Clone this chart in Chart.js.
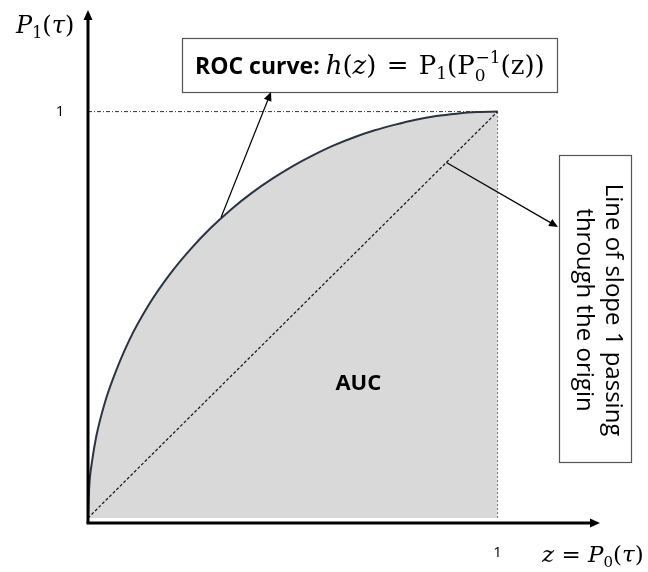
<!DOCTYPE html>
<html>
<head>
<meta charset="utf-8">
<script src="https://cdn.jsdelivr.net/npm/chart.js@4"></script>
<style>
  html, body { margin: 0; padding: 0; background: #fff; }
  #wrap { width: 648px; height: 572px; }
</style>
</head>
<body>
<div id="wrap"><canvas id="plot" width="648" height="572"></canvas></div>
<script>
// ROC curve: z = P0(tau), h(z) = P1(tau)
const rocZ = [0, 0.003, 0.01, 0.02, 0.04, 0.06, 0.1, 0.15, 0.2, 0.25, 0.3, 0.35, 0.4, 0.45, 0.5, 0.55, 0.6, 0.65, 0.7, 0.75, 0.8, 0.85, 0.9, 0.95, 1];
const rocH = [0, 0.077, 0.14, 0.2, 0.28, 0.34, 0.436, 0.527, 0.6, 0.661, 0.714, 0.76, 0.8, 0.835, 0.866, 0.893, 0.917, 0.937, 0.954, 0.968, 0.98, 0.989, 0.995, 0.999, 1];
// line of slope 1 through the origin
const diagZ = [0, 1];
const diagH = [0, 1];
// tick labels shown on the axes
const xTicks = [1];
const yTicks = [1];
const axisMax = 1.25;

const ctx = document.getElementById('plot');

function pts(xs, ys) {
    return xs.map((x, i) => ({x: x, y: ys[i]}));
}

// draw a bit of math text made of segments
function drawSegs(c, segs, x, y) {
    segs.forEach(s => {
        c.font = s.font;
        c.fillText(s.t, x, y + (s.dy || 0));
        x += c.measureText(s.t).width + (s.gap || 0);
    });
    return x;
}

function arrow(c, x1, y1, x2, y2, size, width) {
    var a = Math.atan2(y2 - y1, x2 - x1);
    c.lineWidth = width;
    c.beginPath();
    c.moveTo(x1, y1);
    c.lineTo(x2 - Math.cos(a) * size * 0.8, y2 - Math.sin(a) * size * 0.8);
    c.stroke();
    c.beginPath();
    c.moveTo(x2, y2);
    c.lineTo(x2 - size * Math.cos(a) + size * 0.45 * Math.sin(a), y2 - size * Math.sin(a) - size * 0.45 * Math.cos(a));
    c.lineTo(x2 - size * Math.cos(a) - size * 0.45 * Math.sin(a), y2 - size * Math.sin(a) + size * 0.45 * Math.cos(a));
    c.closePath();
    c.fill();
}

const serif = '"DejaVu Serif", "Liberation Serif", serif';
const sans = '"Open Sans", "Noto Sans", sans-serif';

const decor = {
    id: 'decor',
    afterDatasetsDraw(chart) {
        const c = chart.ctx;
        const xs = chart.scales.x, ys = chart.scales.y;
        const x0 = xs.getPixelForValue(0), y0 = ys.getPixelForValue(0);
        c.save();
        c.fillStyle = '#000';
        c.strokeStyle = '#000';

        // axes with arrows
        arrow(c, x0, y0 + 5, x0, ys.getPixelForValue(axisMax), 10, 3);
        arrow(c, x0 - 1.5, y0 + 5, xs.getPixelForValue(axisMax), y0 + 5, 10, 3);

        // tick labels
        c.font = '15px ' + sans;
        c.textAlign = 'center';
        c.textBaseline = 'middle';
        yTicks.forEach(v => c.fillText(String(v), 60, ys.getPixelForValue(v)));
        xTicks.forEach(v => c.fillText(String(v), xs.getPixelForValue(v), 553));

        // axis titles
        c.textAlign = 'left';
        c.textBaseline = 'alphabetic';
        drawSegs(c, [
            {t: 'P', font: 'italic 24px ' + serif},
            {t: '1', font: '16px ' + serif, dy: 5},
            {t: '(', font: '24px ' + serif},
            {t: 'τ', font: 'italic 24px ' + serif},
            {t: ')', font: '24px ' + serif}
        ], 16, 33);
        drawSegs(c, [
            {t: 'z', font: 'italic 23px ' + serif},
            {t: ' = ', font: '23px ' + serif},
            {t: 'P', font: 'italic 23px ' + serif},
            {t: '0', font: '15px ' + serif, dy: 5},
            {t: '(', font: '23px ' + serif},
            {t: 'τ', font: 'italic 23px ' + serif},
            {t: ')', font: '23px ' + serif}
        ], 542, 562);

        // AUC label
        c.textAlign = 'center';
        c.textBaseline = 'middle';
        c.font = 'bold 22px ' + sans;
        c.fillText('AUC', xs.getPixelForValue(0.66), ys.getPixelForValue(0.33));

        // ROC curve box + arrow
        c.fillStyle = '#fff';
        c.fillRect(182, 38, 375, 54);
        c.strokeStyle = '#555';
        c.lineWidth = 1.2;
        c.strokeRect(182.5, 38.5, 375, 54);
        c.fillStyle = '#000';
        c.textAlign = 'left';
        c.textBaseline = 'alphabetic';
        drawSegs(c, [
            {t: 'ROC curve: ', font: 'bold 23px ' + sans},
            {t: 'h', font: 'italic 26px ' + serif},
            {t: '(', font: '26px ' + serif},
            {t: 'z', font: 'italic 26px ' + serif},
            {t: ')', font: '26px ' + serif, gap: 2},
            {t: ' = ', font: '26px ' + serif, gap: 2},
            {t: 'P', font: '26px ' + serif},
            {t: '1', font: '17px ' + serif, dy: 5},
            {t: '(P', font: '26px ' + serif},
            {t: '0', font: '17px ' + serif, dy: 7, gap: -10},
            {t: '−1', font: '17px ' + serif, dy: -11},
            {t: '(z))', font: '26px ' + serif}
        ], 195, 74);
        c.strokeStyle = '#000';
        arrow(c, xs.getPixelForValue(0.325), ys.getPixelForValue(0.74), 271, 92, 9, 1.2);

        // slope 1 box + arrow
        c.fillStyle = '#fff';
        c.fillRect(559, 155, 72, 307);
        c.strokeStyle = '#555';
        c.lineWidth = 1.2;
        c.strokeRect(559.5, 155.5, 72, 307);
        c.fillStyle = '#000';
        c.save();
        c.translate(596, 310);
        c.rotate(Math.PI / 2);
        c.font = '24px ' + sans;
        c.textAlign = 'center';
        c.textBaseline = 'middle';
        c.fillText('Line of slope 1 passing', 0, -17);
        c.fillText('through the origin', 0, 12);
        c.restore();
        c.strokeStyle = '#000';
        arrow(c, xs.getPixelForValue(0.875), ys.getPixelForValue(0.875), 558, 227, 9, 1.2);

        c.restore();
    }
};

var chart = new Chart(ctx, {
    type: 'scatter',
    data: {
        datasets: [
            {
                label: 'ROC',
                data: pts(rocZ, rocH),
                showLine: true,
                fill: 'origin',
                backgroundColor: '#d9d9d9',
                borderColor: '#2b3442',
                borderWidth: 2,
                pointRadius: 0,
                cubicInterpolationMode: 'monotone',
                order: 3
            },
            {
                label: 'slope 1',
                data: pts(diagZ, diagH),
                showLine: true,
                borderColor: '#111',
                borderWidth: 1.2,
                borderDash: [3, 2],
                pointRadius: 0,
                order: 1
            },
            {
                label: 'h = 1',
                data: pts([0, 1], [1, 1]),
                showLine: true,
                borderColor: '#333',
                borderWidth: 1,
                borderDash: [4, 2, 1, 2],
                pointRadius: 0,
                order: 2
            },
            {
                label: 'z = 1',
                data: pts([1, 1], [0, 1]),
                showLine: true,
                borderColor: '#777',
                borderWidth: 1,
                borderDash: [2, 2],
                pointRadius: 0,
                order: 2
            }
        ]
    },
    options: {
        responsive: false,
        animation: false,
        layout: { padding: { left: 88, right: 48, top: 10, bottom: 54 } },
        plugins: {
            legend: { display: false },
            tooltip: { enabled: false }
        },
        scales: {
            x: { type: 'linear', min: 0, max: axisMax, display: false },
            y: { type: 'linear', min: 0, max: axisMax, display: false }
        }
    },
    plugins: [decor]
});
</script>
</body>
</html>
